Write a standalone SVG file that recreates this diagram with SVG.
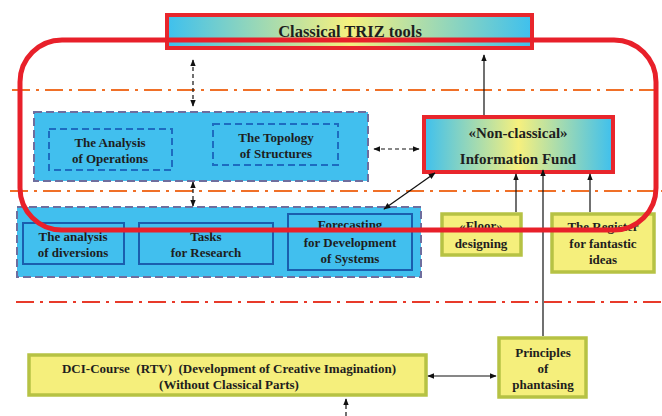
<svg xmlns="http://www.w3.org/2000/svg" width="662" height="416" viewBox="0 0 662 416" font-family="'Liberation Serif', 'DejaVu Serif', serif">
<defs>
<linearGradient id="gby" x1="0" y1="0" x2="1" y2="0">
<stop offset="0" stop-color="#3ec0ee"/>
<stop offset="0.5" stop-color="#f6f07e"/>
<stop offset="1" stop-color="#3ec0ee"/>
</linearGradient>
<marker id="ah" viewBox="0 0 10 10" refX="9" refY="5" markerWidth="7" markerHeight="7" orient="auto-start-reverse" markerUnits="userSpaceOnUse">
<path d="M0,1 L10,5 L0,9 z" fill="#111"/>
</marker>
<style>
text{font-family:'Liberation Serif','DejaVu Serif',serif;font-weight:bold;fill:#1e1e1e;text-anchor:middle;font-size:13px}
.big{font-size:15px}
.title{font-size:16.5px}
.sep{fill:none;stroke:#f07028;stroke-width:2;stroke-dasharray:18 6 3 6}
.sep2{stroke:#e83a2a}
.bluegrp{fill:#41bfee;stroke:#6e6e9e;stroke-width:2;stroke-dasharray:8 4}
.inner-d{fill:none;stroke:#1d6cc0;stroke-width:2;stroke-dasharray:7 4}
.inner-s{fill:none;stroke:#1a5eae;stroke-width:2}
.yel{fill:#f5ef7c;stroke:#b6c244;stroke-width:3.5}
.grad{fill:url(#gby);stroke:#e8262c;stroke-width:4}
.con{fill:none;stroke:#111;stroke-width:1.2}
.dash{stroke-dasharray:4 3}
</style>
</defs>
<rect width="662" height="416" fill="#fff"/>

<g id="separators">
<line class="sep" x1="12" y1="90" x2="662" y2="90"/>
<line class="sep" x1="10" y1="191" x2="662" y2="191"/>
<line class="sep sep2" x1="16" y1="302" x2="662" y2="302"/>
</g>

<g id="classical">
<rect class="grad" x="167" y="15" width="365" height="33"/>
<text class="title" x="350" y="37">Classical TRIZ tools</text>
</g>

<g id="upper-group">
<rect class="bluegrp" x="34" y="112" width="334" height="69"/>
</g>
<g id="analysis-operations">
<rect class="inner-d" x="49" y="129" width="123" height="41"/>
<text x="110" y="147">The Analysis</text>
<text x="110" y="163">of Operations</text>
</g>
<g id="topology">
<rect class="inner-d" x="213" y="124" width="125" height="41"/>
<text x="276" y="142">The Topology</text>
<text x="276" y="158">of Structures</text>
</g>

<g id="info-fund">
<rect class="grad" x="424" y="117" width="189" height="55"/>
<text class="big" x="518" y="138">«Non-classical»</text>
<text class="big" x="518" y="164">Information Fund</text>
</g>

<g id="lower-group">
<rect class="bluegrp" x="17" y="207" width="404" height="70"/>
</g>
<g id="diversions">
<rect class="inner-s" x="23" y="223" width="101" height="41"/>
<text x="73" y="241">The analysis</text>
<text x="73" y="257">of diversions</text>
</g>
<g id="tasks">
<rect class="inner-s" x="139" y="223" width="134" height="41"/>
<text x="206" y="241">Tasks</text>
<text x="206" y="257">for Research</text>
</g>
<g id="forecasting">
<rect class="inner-s" x="288" y="214" width="124" height="56"/>
<text x="350" y="229">Forecasting</text>
<text x="350" y="247">for Development</text>
<text x="350" y="263">of Systems</text>
</g>

<g id="floor">
<rect class="yel" x="442" y="214" width="79" height="41"/>
<text x="481" y="230">«Floor»</text>
<text x="481" y="248">designing</text>
</g>
<g id="register">
<rect class="yel" x="552" y="214" width="102" height="58"/>
<text x="603" y="231">The Register</text>
<text x="603" y="248">for fantastic</text>
<text x="603" y="264">ideas</text>
</g>
<g id="principles">
<rect class="yel" x="499" y="338" width="87" height="59"/>
<text x="543" y="357">Principles</text>
<text x="543" y="373">of</text>
<text x="543" y="389">phantasing</text>
</g>
<g id="dci">
<rect class="yel" x="29" y="355" width="397" height="40"/>
<text x="229" y="373" xml:space="preserve">DCI-Course  (RTV)  (Development of Creative Imagination)</text>
<text x="229" y="389">(Without Classical Parts)</text>
</g>

<g id="connectors">
<line class="con dash" x1="193" y1="60" x2="193" y2="106" marker-start="url(#ah)" marker-end="url(#ah)"/>
<line class="con dash" x1="193" y1="182" x2="193" y2="206" marker-start="url(#ah)" marker-end="url(#ah)"/>
<line class="con dash" x1="374" y1="149" x2="419" y2="149" marker-start="url(#ah)" marker-end="url(#ah)"/>
<line class="con" x1="484" y1="115" x2="484" y2="55" marker-end="url(#ah)"/>
<line class="con" x1="435" y1="173" x2="384" y2="209" marker-start="url(#ah)" marker-end="url(#ah)"/>
<line class="con" x1="516" y1="212" x2="516" y2="174" marker-end="url(#ah)"/>
<line class="con" x1="590" y1="212" x2="590" y2="174" marker-end="url(#ah)"/>
<line class="con" x1="543" y1="336" x2="543" y2="170" marker-end="url(#ah)"/>
<line class="con" x1="428" y1="376" x2="496" y2="376" marker-start="url(#ah)" marker-end="url(#ah)"/>
<line class="con dash" x1="346" y1="416" x2="346" y2="399" marker-end="url(#ah)"/>
</g>

<g id="boundary">
<rect x="20" y="40" width="636" height="190" rx="42" fill="none" stroke="#e8202a" stroke-width="5"/>
</g>
</svg>
